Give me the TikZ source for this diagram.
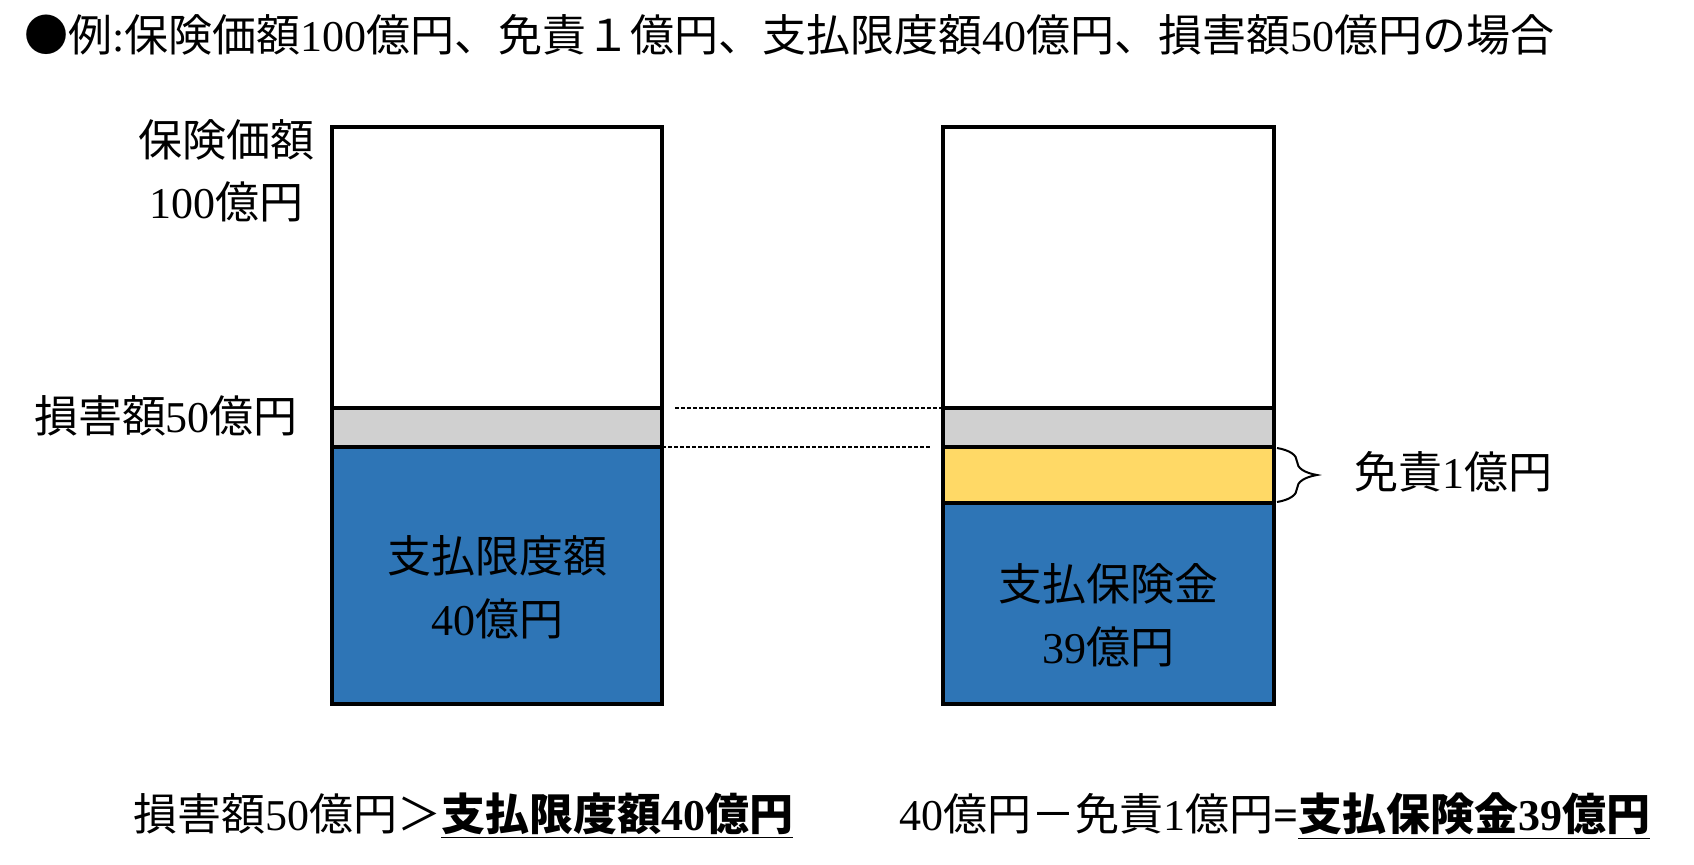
\documentclass[tikz,border=0pt]{standalone}
\usepackage{fontspec}
\setmainfont{Liberation Serif}
\newfontfamily\cjk{Noto Sans CJK JP}
\newcommand\jp[1]{{\cjk #1}}
\usetikzlibrary{decorations.pathreplacing}
\definecolor{bluebg}{HTML}{2E75B6}
\definecolor{graybg}{HTML}{D0D0D0}
\definecolor{yellowbg}{HTML}{FFD966}
\begin{document}
\begin{tikzpicture}[x=0.5pt,y=-0.5pt,
  txt/.style={font=\fontsize{22}{26}\selectfont, inner sep=0pt},
  boxline/.style={draw=black, line width=1.7pt},
  guide/.style={draw=black, line width=0.6pt, dash pattern=on 2pt off 1pt}]
\useasboundingbox (0,0) rectangle (1694,864);
% title
\node[txt, anchor=west] (title) at (24,35) {\jp{●例}:\jp{保険価額}100\jp{億円、免責１億円、支払限度額}40\jp{億円、損害額}50\jp{億円の場合}};
% left column
\coordinate (L1) at (332,127);
\coordinate (L2) at (662,408);
\coordinate (L3) at (662,447);
\coordinate (L4) at (662,704);
\fill[graybg] (332,408) rectangle (L3);
\fill[bluebg] (332,447) rectangle (L4);
\draw[boxline] (332,408) -- (L2);
\draw[boxline] (332,447) -- (L3);
\draw[boxline] (L1) rectangle (L4);
% right column
\coordinate (R1) at (943,127);
\coordinate (R2) at (943,408);
\coordinate (R3) at (943,447);
\coordinate (R3e) at (1274,447);
\coordinate (R4e) at (1274,503);
\coordinate (R5) at (1274,704);
\fill[graybg] (R2) rectangle (R3e);
\fill[yellowbg] (R3) rectangle (R4e);
\fill[bluebg] (943,503) rectangle (R5);
\draw[boxline] (R2) -- (1274,408);
\draw[boxline] (R3) -- (R3e);
\draw[boxline] (943,503) -- (R4e);
\draw[boxline] (R1) rectangle (R5);
% dashed guides
\coordinate (g1a) at (675,408);
\coordinate (g2b) at (930,447);
\draw[guide] (g1a) -- (R2);
\draw[guide] (L3) -- (g2b);
% brace
\coordinate (b1) at (1277,448);
\coordinate (b2) at (1277,502);
\draw[line width=1pt, decorate, decoration={brace, amplitude=20pt, aspect=0.5}] (b1) -- (b2);
% labels
\node[txt] (hv1) at (226,140) {\jp{保険価額}};
\node[txt] (hv2) at (226,202) {100\jp{億円}};
\node[txt] (dmg) at (166,416) {\jp{損害額}50\jp{億円}};
\node[txt] (lim1) at (497,556) {\jp{支払限度額}};
\node[txt] (lim2) at (497,619) {40\jp{億円}};
\node[txt] (pay1) at (1108,584) {\jp{支払保険金}};
\node[txt] (pay2) at (1108,647) {39\jp{億円}};
\node[txt, anchor=west] (ded) at (1354,472) {\jp{免責}1\jp{億円}};
% bottom
\node[txt, anchor=west] (eq1) at (133,816) {\jp{損害額}50\jp{億円＞}\underline{\bfseries\jp{\bfseries 支払限度額}40\jp{\bfseries 億円}}};
\node[txt, anchor=west] (eq2) at (899,816) {40\jp{億円－免責}1\jp{億円}\textbf{=}\underline{\bfseries\jp{\bfseries 支払保険金}39\jp{\bfseries 億円}}};
\end{tikzpicture}
\end{document}
